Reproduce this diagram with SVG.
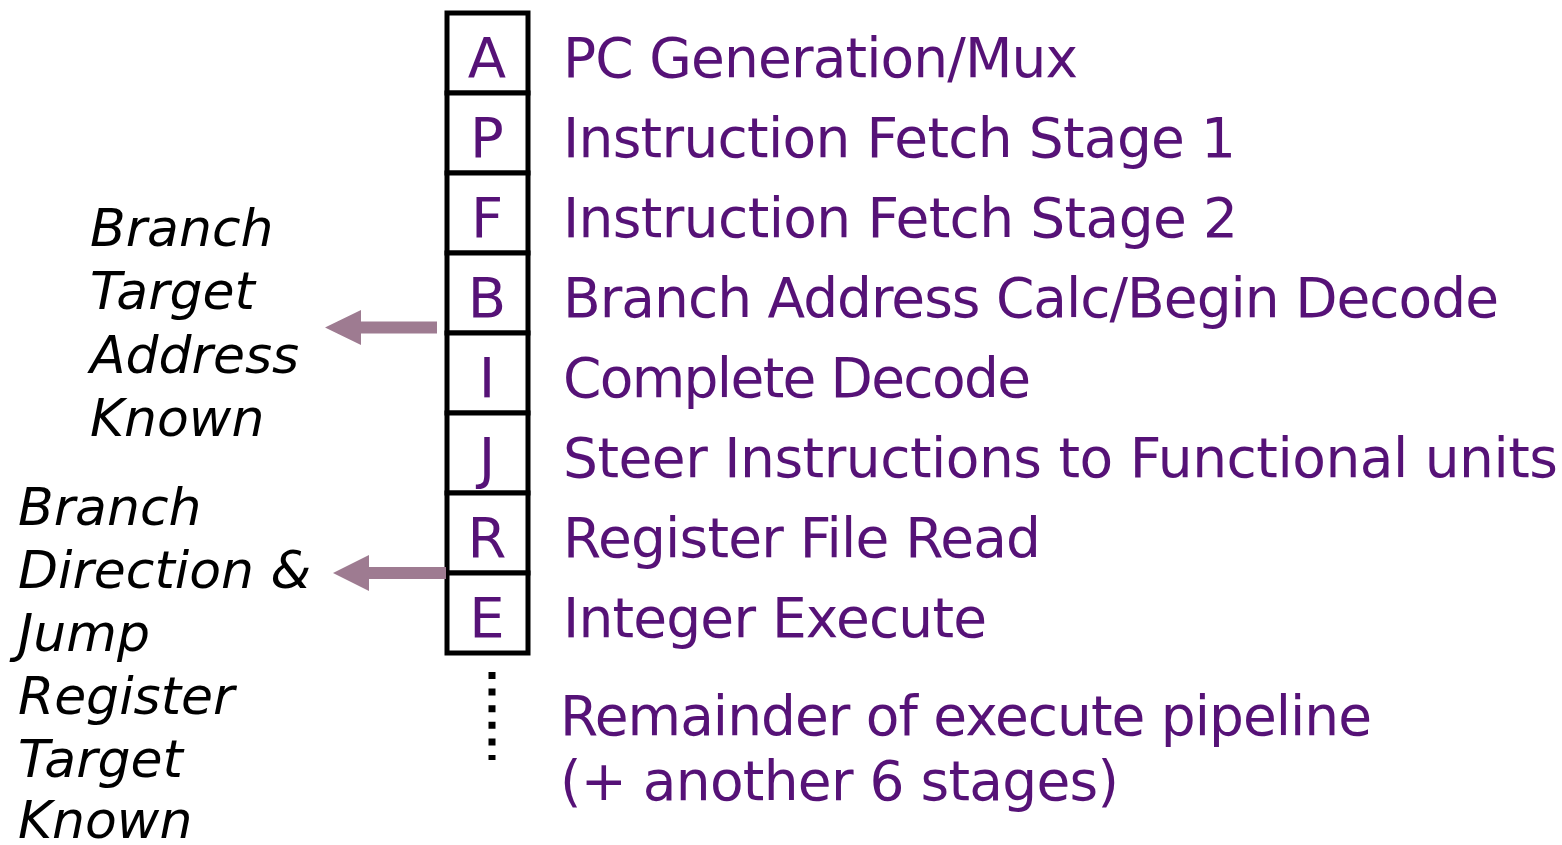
<svg xmlns="http://www.w3.org/2000/svg" width="1562" height="845" viewBox="0 0 1562 845">
<style>
.st{fill:#fff;stroke:#000;stroke-width:5}
.lt{font-family:"DejaVu Sans",Verdana,sans-serif;font-size:56px;fill:#561277;text-anchor:middle}
.ds{font-family:"DejaVu Sans",Verdana,sans-serif;font-size:55px;fill:#561277}
.nt{font-family:"DejaVu Sans",Verdana,sans-serif;font-size:52px;font-style:italic;fill:#000}
.ar{fill:#9e7b91}
</style>
<rect width="1562" height="845" fill="#fff"/>
<g id="stages">
<g id="stage-A"><rect class="st" x="447" y="13" width="81" height="80"/><text class="lt" x="487" y="77">A</text><text class="ds" x="563" y="77" textLength="515" lengthAdjust="spacing">PC Generation/Mux</text></g>
<g id="stage-P"><rect class="st" x="447" y="93" width="81" height="80"/><text class="lt" x="487" y="157">P</text><text class="ds" x="563" y="157" textLength="673" lengthAdjust="spacing">Instruction Fetch Stage 1</text></g>
<g id="stage-F"><rect class="st" x="447" y="173" width="81" height="80"/><text class="lt" x="487" y="237">F</text><text class="ds" x="563" y="237" textLength="675" lengthAdjust="spacing">Instruction Fetch Stage 2</text></g>
<g id="stage-B"><rect class="st" x="447" y="253" width="81" height="80"/><text class="lt" x="487" y="317">B</text><text class="ds" x="563" y="317" textLength="936" lengthAdjust="spacing">Branch Address Calc/Begin Decode</text></g>
<g id="stage-I"><rect class="st" x="447" y="333" width="81" height="80"/><text class="lt" x="487" y="397">I</text><text class="ds" x="563" y="397" textLength="468" lengthAdjust="spacing">Complete Decode</text></g>
<g id="stage-J"><rect class="st" x="447" y="413" width="81" height="80"/><text class="lt" x="487" y="477">J</text><text class="ds" x="563" y="477" textLength="995" lengthAdjust="spacing">Steer Instructions to Functional units</text></g>
<g id="stage-R"><rect class="st" x="447" y="493" width="81" height="80"/><text class="lt" x="487" y="557">R</text><text class="ds" x="563" y="557" textLength="478" lengthAdjust="spacing">Register File Read</text></g>
<g id="stage-E"><rect class="st" x="447" y="573" width="81" height="80"/><text class="lt" x="487" y="637">E</text><text class="ds" x="563" y="637" textLength="424" lengthAdjust="spacing">Integer Execute</text></g>
</g>
<g id="remainder">
<line x1="492" y1="672" x2="492" y2="760" stroke="#000" stroke-width="7" stroke-dasharray="7 9.6"/>
<text class="ds" x="560" y="735" textLength="812" lengthAdjust="spacing">Remainder of execute pipeline</text>
<text class="ds" x="560" y="800" textLength="559" lengthAdjust="spacing">(+ another 6 stages)</text>
</g>
<g id="connectors">
<path class="ar" d="M437 321.5 H361 V310 L325 327.5 L361 345 V333.5 H437 Z"/>
<path class="ar" d="M446 567 H369 V555 L333 573 L369 591 V579 H446 Z"/>
</g>
<g id="note-target">
<text class="nt" x="90" y="246">Branch</text>
<text class="nt" x="90" y="309">Target</text>
<text class="nt" x="90" y="373">Address</text>
<text class="nt" x="90" y="436">Known</text>
</g>
<g id="note-direction">
<text class="nt" x="18" y="525">Branch</text>
<text class="nt" x="18" y="588">Direction &amp;</text>
<text class="nt" x="18" y="651">Jump</text>
<text class="nt" x="18" y="714">Register</text>
<text class="nt" x="18" y="777">Target</text>
<text class="nt" x="18" y="838">Known</text>
</g>
</svg>
